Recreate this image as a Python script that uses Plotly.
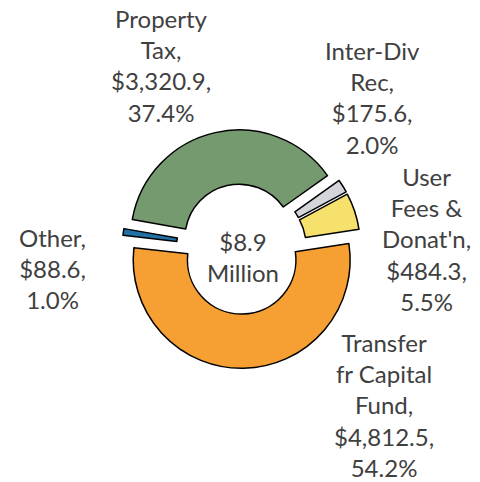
import plotly.graph_objects as go

# revenue sources ($ thousands)
labels = ["Property Tax", "Inter-Div Rec", "User Fees & Donat'n",
          "Transfer fr Capital Fund", "Other"]
label_lines = ["Property<br>Tax", "Inter-Div<br>Rec", "User<br>Fees &<br>Donat'n",
               "Transfer<br>fr Capital<br>Fund", "Other"]
values = [3320.9, 175.6, 484.3, 4812.5, 88.6]

colors = ["#769A70", "#D3D5DB", "#F5E16C", "#F6A033", "#2170A6"]
# label anchor points in pixels (x, y) of the 480x482 canvas
label_pos = [(161, 66), (372, 98), (426, 239), (384, 405), (52, 268)]

W, H = 480, 482
total = sum(values)

fig = go.Figure(go.Pie(
    labels=labels,
    values=values,
    sort=False,
    direction="clockwise",
    rotation=-80,
    hole=0.5,
    pull=[0.1] * len(values),
    marker=dict(colors=colors, line=dict(color="#000000", width=1.5)),
    textinfo="none",
    hoverinfo="label+value+percent",
    domain=dict(x=[0.2545, 0.7516], y=[0.2358, 0.731]),
))

font = dict(family="Lato, Calibri, sans-serif", size=24, color="#404040")

for lab, v, (px, py) in zip(label_lines, values, label_pos):
    txt = f"{lab},<br>${v:,.1f},<br>{v / total * 100:.1f}%"
    fig.add_annotation(x=px / W, y=1 - py / H, xref="paper", yref="paper",
                       text=txt, showarrow=False, font=font,
                       xanchor="center", yanchor="middle", align="center")

fig.add_annotation(x=243 / W, y=1 - 257 / H, xref="paper", yref="paper",
                   text=f"${total / 1000:.1f}<br>Million", showarrow=False,
                   font=font, xanchor="center", yanchor="middle", align="center")

fig.update_layout(
    width=W, height=H,
    margin=dict(l=0, r=0, t=0, b=0),
    paper_bgcolor="white",
    plot_bgcolor="white",
    showlegend=False,
)

# drop the page's default body margin so the chart sits at the top-left
fig.write_html("out.html", config={"displayModeBar": False},
               post_script="document.body.style.margin='0';")
